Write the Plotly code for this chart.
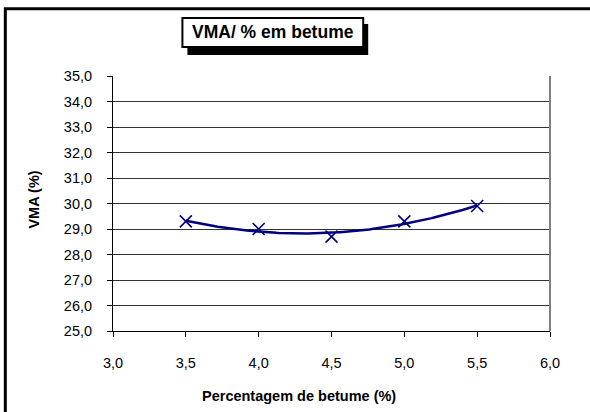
import numpy as np
import plotly.graph_objects as go

# Bitumen content (%) and measured VMA (%)
betume = [3.5, 4.0, 4.5, 5.0, 5.5]
vma = [29.3, 29.0, 28.7, 29.3, 29.9]

x_ticks = [3.0, 3.5, 4.0, 4.5, 5.0, 5.5, 6.0]
y_ticks = [25, 26, 27, 28, 29, 30, 31, 32, 33, 34, 35]

NAVY = "#000080"
FONT = "Liberation Sans, Arial, sans-serif"

W, H = 590, 412
L, R, T, B = 112.5, 550, 76, 331


def px(x):
    return (x - L) / (R - L)


def py(y):
    return (B - y) / (B - T)


# second-order polynomial trend line through the measurements
coef = np.polyfit(betume, vma, 2)
xs = np.linspace(min(betume), max(betume), 120)
ys = np.polyval(coef, xs)

fig = go.Figure()
fig.add_trace(go.Scatter(x=xs, y=ys, mode="lines",
                         line=dict(color=NAVY, width=2.5),
                         hoverinfo="skip", showlegend=False))
fig.add_trace(go.Scatter(x=betume, y=vma, mode="markers",
                         marker=dict(symbol="x-thin", size=12,
                                     line=dict(color=NAVY, width=1.6)),
                         showlegend=False))

fig.update_layout(
    width=W, height=H,
    margin=dict(l=L, r=W - R, t=T, b=H - B, autoexpand=False),
    paper_bgcolor="white", plot_bgcolor="white",
    separators=",.",
    font=dict(family=FONT, size=14.5, color="black"),
    xaxis=dict(range=[3, 6], tickvals=x_ticks, tickformat=".1f",
               showgrid=False, zeroline=False,
               showline=True, linecolor="black", linewidth=1,
               ticks="outside", ticklen=5, tickcolor="black",
               ticklabelstandoff=14),
    yaxis=dict(range=[25, 35], tickvals=y_ticks, tickformat=".1f",
               showgrid=True, gridcolor="#333333", gridwidth=1,
               zeroline=False,
               showline=True, linecolor="black", linewidth=1,
               ticks="outside", ticklen=5, tickcolor="black",
               ticklabelstandoff=12),
)

shapes = [
    # chart area border
    dict(type="rect", xref="paper", yref="paper",
         x0=px(4.7), x1=px(610), y0=py(8.7), y1=py(430),
         line=dict(color="black", width=3), fillcolor="rgba(0,0,0,0)"),
    # plot area right edge
    dict(type="line", xref="paper", yref="paper",
         x0=1, x1=1, y0=0, y1=1,
         line=dict(color="#808080", width=2)),
    # title shadow and box
    dict(type="rect", xref="paper", yref="paper",
         x0=px(187), x1=px(368), y0=py(55), y1=py(24),
         line=dict(width=0), fillcolor="black"),
    dict(type="rect", xref="paper", yref="paper",
         x0=px(182), x1=px(363), y0=py(47), y1=py(18),
         line=dict(color="black", width=2), fillcolor="white"),
]
fig.update_layout(shapes=shapes)

fig.add_annotation(text="<b>VMA/ % em betume</b>", xref="paper", yref="paper",
                   x=px(272.5), y=py(32.5), showarrow=False,
                   xanchor="center", yanchor="middle",
                   font=dict(family=FONT, size=17.5, color="black"))
fig.add_annotation(text="<b>Percentagem de betume (%)</b>", xref="paper", yref="paper",
                   x=px(299), y=py(396), showarrow=False,
                   xanchor="center", yanchor="middle",
                   font=dict(family=FONT, size=14.5, color="black"))
fig.add_annotation(text="<b>VMA (%)</b>", xref="paper", yref="paper",
                   x=px(33), y=py(200), showarrow=False, textangle=-90,
                   xanchor="center", yanchor="middle",
                   font=dict(family=FONT, size=14.5, color="black"))

fig.write_html("out.html")
